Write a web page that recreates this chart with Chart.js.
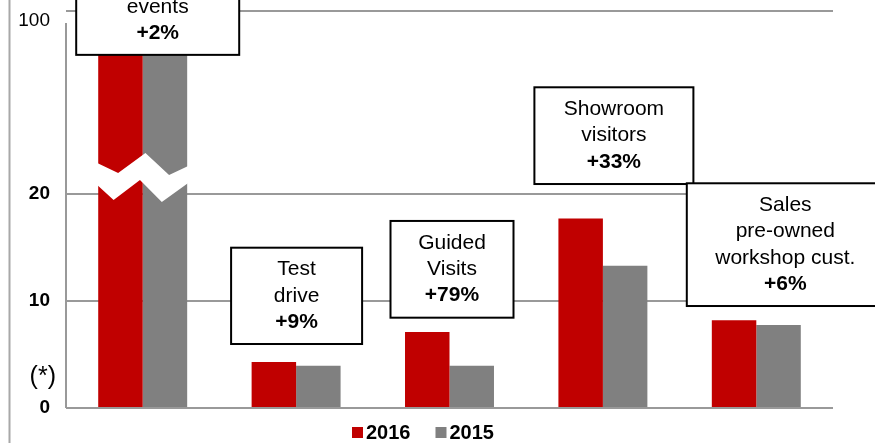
<!DOCTYPE html>
<html><head><meta charset="utf-8">
<script src="https://cdn.jsdelivr.net/npm/chart.js@4/dist/chart.umd.min.js"></script>
<style>html,body{margin:0;padding:0;background:#fff}canvas{display:block}</style>
</head><body>
<canvas id="c" width="875" height="443"></canvas>
<script>
// ---- data ----
const categories = ['events', 'Test drive', 'Guided Visits', 'Showroom visitors', 'Sales pre-owned workshop cust.'];
const values2016 = [102, 4.3, 7.1, 17.7, 8.2];
const values2015 = [100, 3.95, 3.95, 13.3, 7.75];
const seriesNames = ['2016', '2015'];
const tickValues = [0, 10, 20, 100];
const tickLabels = ['0', '10', '20', '100'];
const boxTexts = [
  ['', 'events', '+2%'],
  ['Test', 'drive', '+9%'],
  ['Guided', 'Visits', '+79%'],
  ['Showroom', 'visitors', '+33%'],
  ['Sales', 'pre-owned', 'workshop cust.', '+6%']
];

// ---- broken axis: 0..20 linear, 20..100 compressed ----
const BREAK_LO = 20, BREAK_HI = 100, BREAK_SPAN = 17.1;
function toAxis(v) { return v <= BREAK_LO ? v : BREAK_LO + (v - BREAK_LO) * BREAK_SPAN / (BREAK_HI - BREAK_LO); }

const FONT = "'Liberation Sans', Arial, sans-serif";
const RED = '#C00000', GRAY = '#808080', GRID = '#999999';

// annotation box layout (axis units for vertical, px offsets for horizontal)
const boxLayout = [
  {dx: 15, w: 163, top: 41.9, bottom: 33.0},
  {dx: 0.5, w: 131, top: 14.98, bottom: 5.98},
  {dx: 2.5, w: 123, top: 17.48, bottom: 8.44},
  {dx: 11, w: 159, top: 29.97, bottom: 20.93},
  {dx: 29, w: 197, top: 21.0, bottom: 9.53}
];

const deco = {
  id: 'deco',
  beforeDraw(chart) {
    const ctx = chart.ctx;
    ctx.save();
    ctx.strokeStyle = '#a8a8a8';
    ctx.lineWidth = 2;
    ctx.beginPath(); ctx.moveTo(9.5, 0); ctx.lineTo(9.5, chart.height); ctx.stroke();
    ctx.restore();
  },
  afterDatasetsDraw(chart) {
    const ctx = chart.ctx, y = chart.scales.y, x = chart.scales.x, ca = chart.chartArea;
    ctx.save();
    // vertical axis line
    ctx.strokeStyle = GRID; ctx.lineWidth = 2;
    ctx.beginPath(); ctx.moveTo(ca.left, y.getPixelForValue(35.98)); ctx.lineTo(ca.left, ca.bottom); ctx.stroke();
    // break zigzag on first group
    const b0 = chart.getDatasetMeta(0).data[0], b1 = chart.getDatasetMeta(1).data[0];
    const L = b0.x - b0.width / 2 - 1, R = b1.x + b1.width / 2 + 1, W = R - L;
    const y0 = y.getPixelForValue(BREAK_LO);
    const topPts = [[0,-31],[0.23,-21],[0.53,-41],[0.79,-19],[1,-28]];
    const botPts = [[1,-11],[0.71,8],[0.47,-14],[0.18,6],[0,-9]];
    ctx.fillStyle = '#fff';
    ctx.beginPath();
    topPts.concat(botPts).forEach((p, i) => {
      const px = L + p[0] * W, py = y0 + p[1];
      if (i === 0) ctx.moveTo(px, py); else ctx.lineTo(px, py);
    });
    ctx.closePath(); ctx.fill();
    // annotation boxes
    boxLayout.forEach((b, i) => {
      const cx = x.getPixelForValue(i) + b.dx;
      const t = y.getPixelForValue(b.top), bt = y.getPixelForValue(b.bottom);
      ctx.fillStyle = '#fff';
      ctx.fillRect(cx - b.w / 2, t, b.w, bt - t);
      ctx.strokeStyle = '#000'; ctx.lineWidth = 2;
      ctx.strokeRect(cx - b.w / 2, t, b.w, bt - t);
      const lines = boxTexts[i], n = lines.length, cy = (t + bt) / 2, lh = 26.3;
      ctx.fillStyle = '#000'; ctx.textAlign = 'center'; ctx.textBaseline = 'middle';
      lines.forEach((s, k) => {
        ctx.font = (k === n - 1 ? 'bold ' : '') + '21px ' + FONT;
        ctx.fillText(s, cx, cy + (k - (n - 1) / 2) * lh);
      });
    });
    // (*) note
    ctx.fillStyle = '#000'; ctx.font = '25px ' + FONT; ctx.textAlign = 'right'; ctx.textBaseline = 'middle';
    ctx.fillText('(*)', 56, 377);
    // legend
    let lx = 352; const ly = 432.5;
    ctx.font = 'bold 20px ' + FONT; ctx.textAlign = 'left';
    chart.data.datasets.forEach(ds => {
      ctx.fillStyle = ds.backgroundColor;
      ctx.fillRect(lx, ly - 5.5, 11, 11);
      ctx.fillStyle = '#000';
      ctx.fillText(ds.label, lx + 14, ly + 1);
      lx += 14 + ctx.measureText(ds.label).width + 25;
    });
    ctx.restore();
  }
};

new Chart(document.getElementById('c'), {
  type: 'bar',
  data: {
    labels: categories,
    datasets: [
      {label: seriesNames[0], data: values2016.map(toAxis), backgroundColor: RED, barPercentage: 1, categoryPercentage: 0.58},
      {label: seriesNames[1], data: values2015.map(toAxis), backgroundColor: GRAY, barPercentage: 1, categoryPercentage: 0.58}
    ]
  },
  options: {
    responsive: false,
    animation: false,
    devicePixelRatio: 1,
    layout: {autoPadding: false, padding: {left: 0, right: 42, top: 5, bottom: 35}},
    plugins: {legend: {display: false}, tooltip: {enabled: false}},
    scales: {
      x: {display: false},
      y: {
        min: 0, max: 37.66,
        afterFit: s => { s.width = 66; s.paddingTop = 0; s.paddingBottom = 0; },
        afterBuildTicks: s => { s.ticks = tickValues.map(v => ({value: toAxis(v)})); },
        border: {display: false},
        grid: {color: GRID, lineWidth: 2, drawTicks: false},
        ticks: {
          padding: 16,
          color: '#000',
          callback: (v, i) => tickLabels[i] === '100' ? ['', tickLabels[i]] : tickLabels[i],
          font: c => c.index === 3 ? {family: FONT, size: 19, weight: 'normal', lineHeight: 1.05} : {family: FONT, size: 19, weight: 'bold', lineHeight: 1.2}
        }
      }
    }
  },
  plugins: [deco]
});
</script>
</body></html>
